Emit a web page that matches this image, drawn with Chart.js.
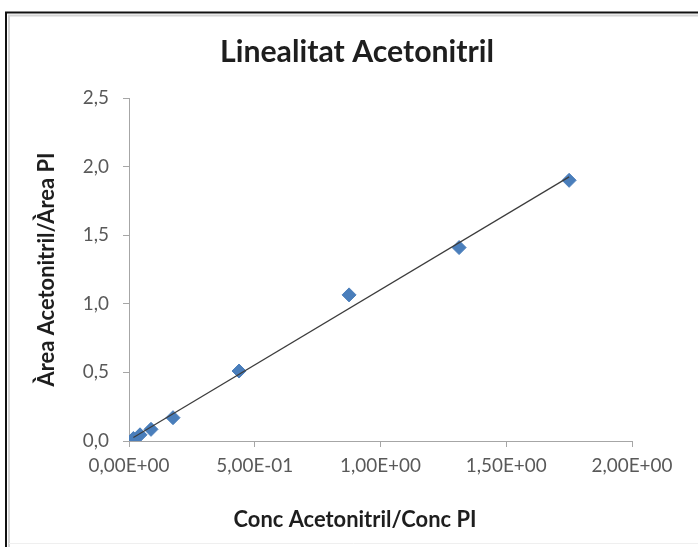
<!DOCTYPE html>
<html><head><meta charset="utf-8">
<script src="https://cdn.jsdelivr.net/npm/chart.js@4.4.1/dist/chart.umd.min.js"></script>
<style>html,body{margin:0;padding:0;background:#fff;overflow:hidden}</style>
</head><body>
<canvas id="c" width="698" height="547"></canvas>
<script>
// ---- data ----
const chartTitle = 'Linealitat Acetonitril';
const xAxisTitle = 'Conc Acetonitril/Conc PI';
const yAxisTitle = 'Àrea Acetonitril/Àrea PI';
const concRatio = [1.75, 1.3125, 0.875, 0.4375, 0.175, 0.0875, 0.04375, 0.0175];
const areaRatio = [1.9, 1.41, 1.065, 0.51, 0.17, 0.085, 0.045, 0.018];
const xTickValues = [0, 0.5, 1.0, 1.5, 2.0];
const yTickValues = [0, 0.5, 1.0, 1.5, 2.0, 2.5];

// ---- linear trendline (least squares, like Excel) ----
const n = concRatio.length;
const mx = concRatio.reduce((a,b)=>a+b,0)/n;
const my = areaRatio.reduce((a,b)=>a+b,0)/n;
let sxx=0, sxy=0;
for (let i=0;i<n;i++){ sxx+=(concRatio[i]-mx)**2; sxy+=(concRatio[i]-mx)*(areaRatio[i]-my); }
const slope = sxy/sxx, intercept = my - slope*mx;
const xLo = Math.min(...concRatio), xHi = Math.max(...concRatio);
const trend = [{x:xLo, y:slope*xLo+intercept}, {x:xHi, y:slope*xHi+intercept}];
const points = concRatio.map((x,i)=>({x, y: areaRatio[i]}));

// ---- font fitting ----
const FAM = 'Lato';
const mctx = document.createElement('canvas').getContext('2d');
function fit(text, weight, target){ mctx.font = weight+' 100px '+FAM; return 100*target/mctx.measureText(text).width; }
const titleSize = fit(chartTitle, 'bold', 274);
const axTitleSize = fit(xAxisTitle, 'bold', 243);
const tickSize = fit('5,00E-01', 'normal', 77);

function sciComma(v){
  const parts = v.toExponential(2).split('e');
  const e = parseInt(parts[1],10);
  return parts[0].replace('.',',') + 'E' + (e<0?'-':'+') + String(Math.abs(e)).padStart(2,'0');
}

const framePlugin = {
  id: 'frame',
  beforeDraw(chart){
    const c = chart.ctx;
    c.save();
    c.fillStyle = '#fff'; c.fillRect(0,0,chart.width,chart.height);
    c.strokeStyle = '#d4d4d4'; c.lineWidth = 2;
    c.beginPath(); c.moveTo(9,547); c.lineTo(9,15.5); c.lineTo(698,15.5); c.stroke();
    c.strokeStyle = '#efefef'; c.lineWidth = 1;
    c.beginPath(); c.moveTo(9,543.5); c.lineTo(698,543.5); c.stroke();
    c.strokeStyle = '#111'; c.lineWidth = 2;
    c.beginPath(); c.moveTo(6,547); c.lineTo(6,12.5); c.lineTo(698,12.5); c.stroke();
    c.restore();
  },
  afterDraw(chart){
    const c = chart.ctx;
    c.save();
    c.fillStyle = '#1e1e1e';
    c.textAlign = 'center'; c.textBaseline = 'alphabetic';
    c.font = 'bold '+titleSize+'px '+FAM;
    c.fillText(chartTitle, 357, 62);
    c.font = 'bold '+axTitleSize+'px '+FAM;
    c.fillText(xAxisTitle, 355, 527);
    c.restore();
  }
};

new Chart(document.getElementById('c'), {
  type: 'scatter',
  data: {
    datasets: [
      { type:'line', data: trend, borderColor:'#3c3c3c', borderWidth:1.2, pointRadius:0, fill:false, order:0 },
      { data: points, pointStyle:'rectRot', pointRadius:7, pointHoverRadius:7,
        backgroundColor:'#4a7ebb', borderColor:'#4a7ebb', borderWidth:1, order:1 }
    ]
  },
  options: {
    responsive:false, animation:false,
    layout:{ padding:{ top:98, left:0, right:66, bottom:0 } },
    plugins:{ legend:{display:false}, title:{display:false}, tooltip:{enabled:false} },
    scales:{
      x:{
        type:'linear', min:0, max:2,
        afterBuildTicks(s){ s.ticks = xTickValues.map(v=>({value:v})); },
        afterFit(s){ s.height = 106; },
        ticks:{ callback:(v)=>sciComma(v), color:'#595959', font:{family:FAM, size:tickSize}, padding:8, maxRotation:0, autoSkip:false },
        grid:{ drawOnChartArea:false, drawTicks:true, tickLength:6, color:'#a6a6a6' },
        border:{ color:'#a6a6a6', width:1 }
      },
      y:{
        type:'linear', min:0, max:2.5,
        afterBuildTicks(s){ s.ticks = yTickValues.map(v=>({value:v})); },
        afterFit(s){ s.width = 129; },
        ticks:{ callback:(v)=>v.toFixed(1).replace('.',','), color:'#595959', font:{family:FAM, size:tickSize}, padding:14 },
        grid:{ drawOnChartArea:false, drawTicks:true, tickLength:6, color:'#a6a6a6' },
        border:{ color:'#a6a6a6', width:1 },
        title:{ display:true, text:yAxisTitle, color:'#1e1e1e', font:{family:FAM, size:axTitleSize, weight:'bold'}, padding:{top:47-axTitleSize*0.6, bottom:0} }
      }
    }
  },
  plugins:[framePlugin]
});
</script>
</body></html>
